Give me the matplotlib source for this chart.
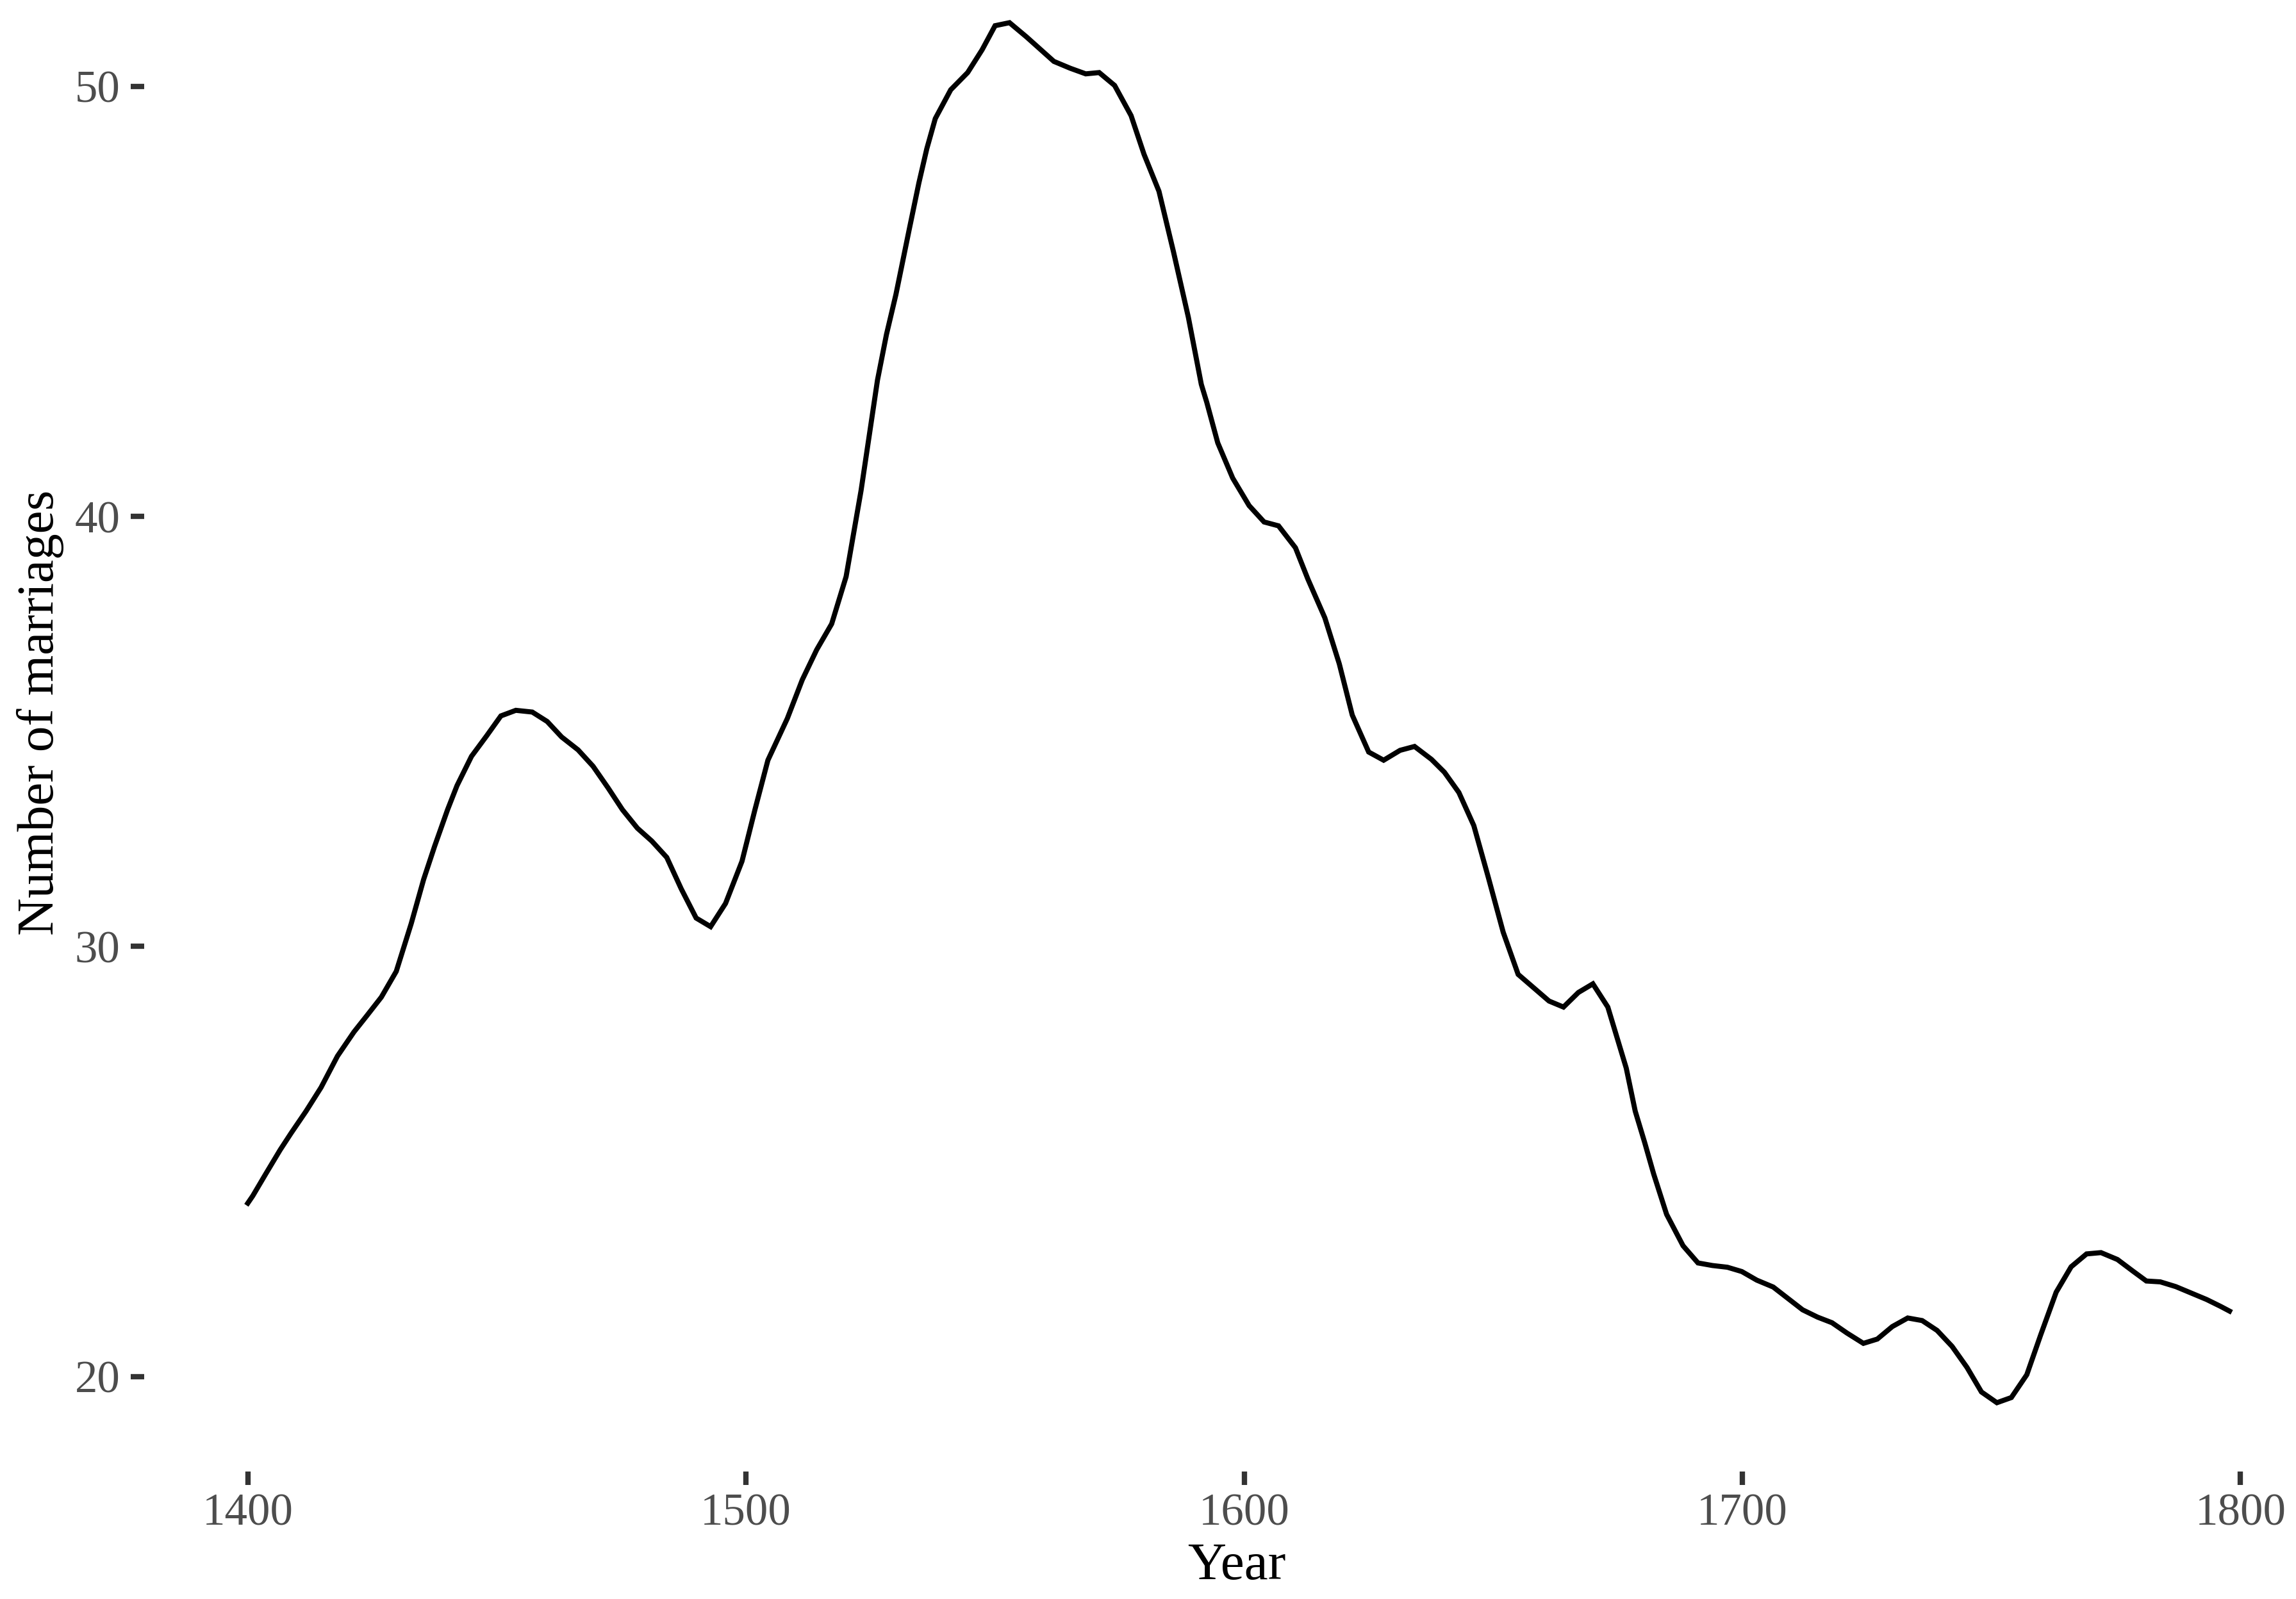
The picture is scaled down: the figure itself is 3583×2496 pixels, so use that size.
import matplotlib
matplotlib.use("Agg")
import matplotlib.pyplot as plt

years = [1400.0, 1401.0, 1403.6, 1406.5, 1408.7, 1411.7, 1414.7, 1418.0, 1421.3, 1423.9,
         1426.8, 1429.8, 1432.8, 1435.3, 1437.5, 1440.1, 1442.0, 1444.9, 1447.9, 1450.8,
         1453.8, 1457.1, 1460.1, 1463.0, 1466.3, 1469.3, 1472.3, 1475.2, 1478.2, 1481.1,
         1484.1, 1487.0, 1490.0, 1492.9, 1495.9, 1499.2, 1501.8, 1504.4, 1508.3, 1511.3,
         1514.2, 1517.2, 1520.1, 1523.1, 1526.4, 1528.2, 1530.1, 1532.8, 1534.7, 1536.3,
         1538.0, 1541.1, 1544.5, 1547.4, 1550.0, 1552.9, 1556.3, 1561.8, 1565.1, 1568.2,
         1570.9, 1574.0, 1577.3, 1579.9, 1582.9, 1585.8, 1588.8, 1591.4, 1592.5, 1594.7,
         1597.7, 1601.0, 1604.0, 1606.9, 1610.3, 1612.8, 1616.2, 1619.1, 1621.7, 1625.0,
         1628.0, 1631.3, 1634.2, 1637.6, 1640.2, 1643.1, 1646.1, 1649.0, 1652.0, 1655.0,
         1658.9, 1661.2, 1664.1, 1667.1, 1670.0, 1673.0, 1674.8, 1676.7, 1678.5, 1680.4,
         1682.2, 1684.8, 1688.1, 1691.1, 1694.0, 1697.0, 1699.9, 1702.9, 1706.2, 1709.2,
         1712.1, 1715.1, 1718.0, 1721.0, 1724.3, 1727.1, 1730.1, 1733.2, 1736.1, 1739.1,
         1742.1, 1745.1, 1748.0, 1751.1, 1754.0, 1757.1, 1759.9, 1763.0, 1766.0, 1769.1,
         1772.0, 1775.3, 1778.4, 1781.1, 1783.9, 1787.0, 1790.1, 1793.2, 1796.0, 1797.8]

marriages = [24.03, 24.20, 24.71, 25.27, 25.66, 26.17, 26.72, 27.45, 28.01, 28.39,
             28.82, 29.42, 30.53, 31.56, 32.33, 33.18, 33.74, 34.42, 34.89, 35.36,
             35.49, 35.45, 35.23, 34.87, 34.57, 34.19, 33.69, 33.18, 32.75, 32.45,
             32.07, 31.34, 30.66, 30.46, 31.00, 31.98, 33.18, 34.33, 35.30, 36.20,
             36.90, 37.50, 38.60, 40.60, 43.17, 44.23, 45.16, 46.69, 47.75, 48.55,
             49.25, 49.92, 50.32, 50.85, 51.41, 51.48, 51.15, 50.58, 50.42, 50.29,
             50.32, 50.02, 49.32, 48.42, 47.56, 46.16, 44.63, 43.07, 42.65, 41.71,
             40.89, 40.25, 39.87, 39.78, 39.27, 38.54, 37.64, 36.57, 35.38, 34.52,
             34.33, 34.56, 34.65, 34.35, 34.05, 33.58, 32.81, 31.61, 30.33, 29.35,
             28.96, 28.73, 28.59, 28.93, 29.13, 28.59, 27.90, 27.17, 26.17, 25.44,
             24.71, 23.77, 23.04, 22.64, 22.58, 22.54, 22.44, 22.24, 22.08, 21.81,
             21.55, 21.38, 21.25, 21.01, 20.77, 20.87, 21.16, 21.36, 21.30, 21.07,
             20.70, 20.21, 19.64, 19.39, 19.51, 20.04, 20.97, 21.96, 22.55, 22.85,
             22.88, 22.72, 22.45, 22.22, 22.20, 22.09, 21.94, 21.79, 21.63, 21.52]

x_ticks = [1400, 1500, 1600, 1700, 1800]
y_ticks = [20, 30, 40, 50]

plt.rcParams['font.family'] = ['Liberation Serif', 'DejaVu Serif']

W, H, DPI = 3583, 2496, 300
fig = plt.figure(figsize=(W / DPI, H / DPI), dpi=DPI, facecolor='white')

# panel in pixel coordinates (extends slightly beyond the canvas like the reference)
left_px, right_px, top_px, bottom_px = 225, 3634, -72, 2297
ax = fig.add_axes([left_px / W, (H - bottom_px) / H,
                   (right_px - left_px) / W, (bottom_px - top_px) / H])
ax.set_facecolor('white')

ax.plot(years, marriages, color='black', linewidth=1.9, solid_joinstyle='miter')
ax.set_xlim(1379.2, 1817.7)
ax.set_ylim(17.79, 53.08)

for s in ax.spines.values():
    s.set_visible(False)

ax.set_xticks(x_ticks)
ax.set_yticks(y_ticks)
ax.tick_params(axis='both', which='major', length=5, width=2.0, color='#333333',
               labelcolor='#4D4D4D', labelsize=17)
ax.tick_params(axis='x', pad=3)
ax.tick_params(axis='y', pad=4)

ax.set_xlabel('Year', fontsize=20, color='black', labelpad=3)
ax.set_ylabel('Number of marriages', fontsize=19.5, color='black', labelpad=4)

fig.savefig('out.png', dpi=DPI, facecolor='white')
